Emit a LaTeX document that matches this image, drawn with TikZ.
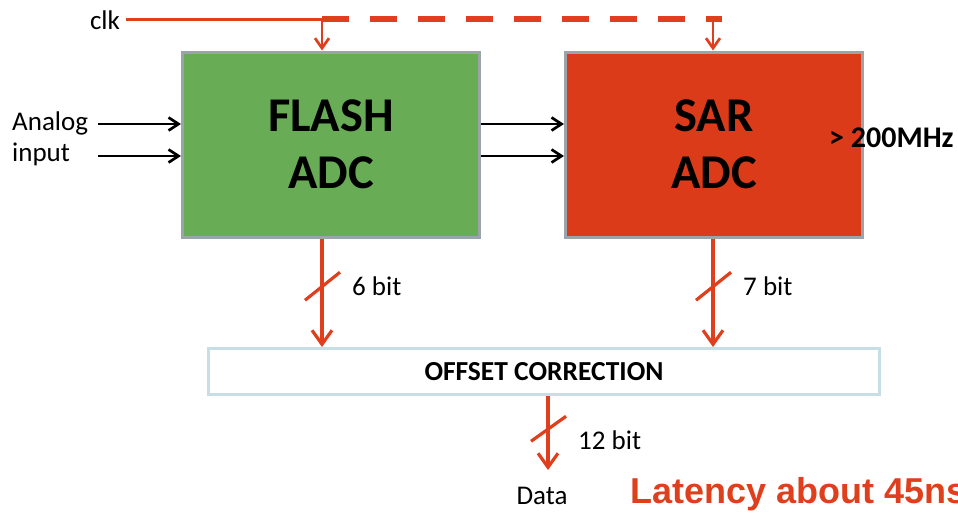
\documentclass[tikz,border=0pt]{standalone}
\usepackage{fontspec}
\setmainfont{Carlito}
\newfontfamily\arialfont{Liberation Sans}
\usepackage{tikz}
\usetikzlibrary{arrows.meta,positioning,calc}
\definecolor{flashgreen}{HTML}{68AC55}
\definecolor{sarred}{HTML}{DC3B1A}
\definecolor{rimgray}{HTML}{9BA4A9}
\definecolor{rimblue}{HTML}{C6DEE4}
\definecolor{wirered}{HTML}{E03F1E}
\tikzset{
  adc/.style={rectangle, draw=rimgray, line width=3pt, align=center, minimum height=185pt, minimum width=297pt, font=\bfseries\fontsize{48.5}{57}\selectfont},
  corr/.style={rectangle, draw=rimblue, line width=3pt, minimum height=46pt, minimum width=671pt, font=\bfseries\fontsize{27.5}{30}\selectfont},
  lbl/.style={inner sep=0pt, font=\fontsize{27}{31}\selectfont},
  arrow/.style={-{Straight Barb[length=10pt,width=13pt]}, line width=2.7pt},
  redarrow/.style={-{Straight Barb[length=14pt,width=20pt]}, line width=3.2pt, draw=wirered},
  clkarrow/.style={-{Straight Barb[length=10pt,width=14pt]}, line width=2.7pt, draw=wirered},
  clkline/.style={line width=3pt, draw=wirered},
  clkdash/.style={line width=6.5pt, draw=wirered, dash pattern=on 27pt off 21pt},
  slash/.style={line width=3.2pt, draw=wirered}
}
\begin{document}
\begin{tikzpicture}[x=1pt, y=-1pt]
  \useasboundingbox (0,0) rectangle (958,512);
  % converter blocks
  \node[adc, fill=flashgreen] (flash) at (331,144.5) {FLASH\\ADC};
  \node[adc, fill=sarred] (sar) at (714,144.5) {SAR\\ADC};
  \node[corr] (corr) at (544,371.5) {OFFSET CORRECTION};
  % clock
  \node[lbl] (clk) at (105,20) {clk};
  \coordinate (ck1) at (322,19);
  \coordinate (ck2) at (713,19);
  \coordinate (ckend) at (722,19);
  \draw[clkline] (clk.east) ++(6,-1) -- (ck1);
  \draw[clkdash] (ck1) -- (ckend);
  \draw[clkarrow] (ck1) -- (ck1 |- flash.north);
  \draw[clkarrow] (ck2) -- (ck2 |- sar.north);
  % analog inputs
  \node[lbl, align=left, anchor=west] (ain) at (12,139) {Analog\\input};
  \coordinate (in1) at (98,124);
  \coordinate (in2) at (98,156);
  \draw[arrow] (in1) -- (in1 -| flash.west);
  \draw[arrow] (in2) -- (in2 -| flash.west);
  \draw[arrow] (in1 -| flash.east) -- (in1 -| sar.west);
  \draw[arrow] (in2 -| flash.east) -- (in2 -| sar.west);
  \node[lbl, anchor=west, font=\bfseries\fontsize{30}{32}\selectfont] (freq) at (829,138) {> 200MHz};
  % buses
  \draw[redarrow] (ck1 |- flash.south) -- coordinate[pos=0.44] (s1) (ck1 |- corr.north);
  \draw[slash] ($(s1)+(-17,14)$) -- ($(s1)+(18,-14)$);
  \node[lbl, anchor=west] (b1) at ($(s1)+(30,0)$) {6 bit};
  \draw[redarrow] (ck2 |- sar.south) -- coordinate[pos=0.44] (s2) (ck2 |- corr.north);
  \draw[slash] ($(s2)+(-17,14)$) -- ($(s2)+(18,-14)$);
  \node[lbl, anchor=west] (b2) at ($(s2)+(30,0)$) {7 bit};
  \coordinate (out) at (548,470);
  \draw[redarrow] (out |- corr.south) -- coordinate[pos=0.45] (s3) (out);
  \draw[slash] ($(s3)+(-17,12)$) -- ($(s3)+(18,-13)$);
  \node[lbl, anchor=west] (b3) at ($(s3)+(30,11)$) {12 bit};
  \node[lbl] (data) at (542,496) {Data};
  \node[lbl, anchor=west, text=wirered, font=\arialfont\bfseries\fontsize{36}{40}\selectfont] (lat) at (630,494) {Latency about 45ns};
\end{tikzpicture}
\end{document}
